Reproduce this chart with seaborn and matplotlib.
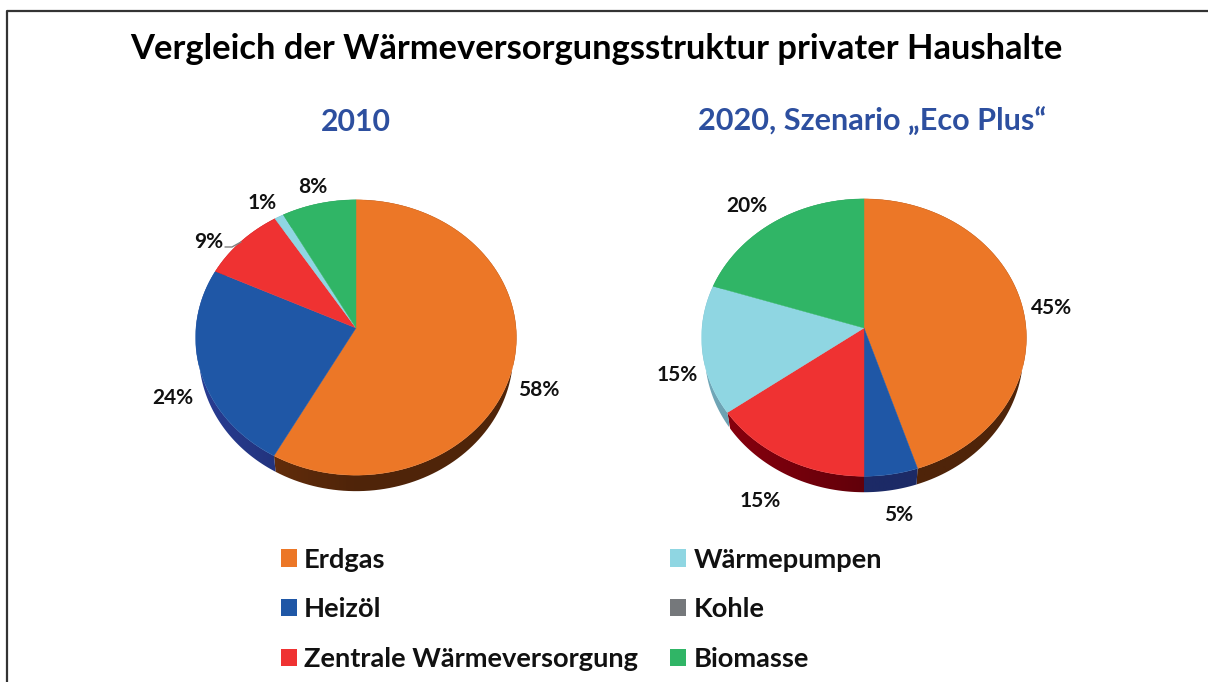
import matplotlib
matplotlib.use('Agg')
import matplotlib.pyplot as plt
from matplotlib.colors import to_rgb
from matplotlib.lines import Line2D
from matplotlib.patches import Patch, Polygon
import numpy as np
import seaborn as sns

categories = ['Erdgas', 'Heizöl', 'Zentrale Wärmeversorgung', 'Wärmepumpen', 'Kohle', 'Biomasse']
values_2010 = [58, 24, 9, 1, 0, 8]
values_2020 = [45, 5, 15, 15, 0, 20]
title_main = 'Vergleich der Wärmeversorgungsstruktur privater Haushalte'
title_2010 = '2010'
title_2020 = '2020, Szenario „Eco Plus“'

face_colors = ['#ec7727', '#1f57a6', '#ef3232', '#8fd6e2', '#75787b', '#30b566']
side_colors = ['#4f2409', '#1c2a66', '#62000a', '#4f7581', '#4a4c4e', '#1c6b3c']

W, H = 1208, 682
PERSP = 0.069
DEPTH = 16

sns.set_theme(style='white')
plt.rcParams['font.family'] = ['Lato', 'DejaVu Sans']

fig = plt.figure(figsize=(W / 100, H / 100), dpi=100, facecolor='white')


def warp(x, y, rx, ry):
    # tilted disc: the top of the pie is squeezed, the bottom stretched
    d = 1 + PERSP * y
    return rx * x / d, ry * y / d


def draw_pie(values, cx, cy, rx, ry):
    # axes in pixel units around the pie centre
    ax = fig.add_axes([(cx - 250) / W, 1 - (cy + 250) / H, 500 / W, 500 / H])
    wedges, _ = ax.pie(values, colors=face_colors, startangle=90, counterclock=False)
    for w, face, side in zip(wedges, face_colors, side_colors):
        t1, t2 = w.theta1, w.theta2
        w.remove()
        if t2 - t1 < 0.01:
            continue
        a = np.radians(np.linspace(t1, t2, 120))
        x, y = warp(np.cos(a), np.sin(a), rx, ry)
        # side wall with a gradient, it gets lighter towards the left
        band = np.vstack([np.c_[x, y], np.c_[x * 0.98, y - DEPTH][::-1]])
        xs = np.linspace(x.min(), x.max() + 1, 64)
        shade = 1 + 0.45 * np.clip(-xs / rx, 0, None)
        grad = np.clip(np.outer(shade, to_rgb(side)), 0, 1)[np.newaxis, :, :]
        im = ax.imshow(grad, extent=(xs[0], xs[-1], -250, 250), aspect='auto', zorder=1)
        im.set_clip_path(Polygon(band, closed=True, transform=ax.transData))
        top = np.vstack([[0, 0], np.c_[x, y]])
        ax.add_patch(Polygon(top, closed=True, fc=face, ec=face, lw=0.3, zorder=2))
    ax.set_aspect('auto')
    ax.set_xlim(-250, 250)
    ax.set_ylim(-250, 250)
    ax.axis('off')


def px_text(x, y, s, **kw):
    fig.text(x / W, 1 - (y + 2) / H, s, ha='center', va='center', fontweight='bold', **kw)


draw_pie(values_2010, 356, 328, 160, 137)
draw_pie(values_2020, 864, 328, 162, 138)

px_text(596, 47, title_main, fontsize=24.8, color='black')
px_text(355.5, 120, title_2010, fontsize=21.8, color='#2d4f9f')
px_text(872.5, 120, title_2020, fontsize=22.1, color='#2d4f9f')

# percent labels, placed by hand as in the original
pos_2010 = [(539, 388), (173, 396), (209, 240), (262, 201), (313, 185)]
pos_2020 = [(1052, 306), (899, 513), (760, 499), (677, 373), (747, 204)]
for vals, pos in ((values_2010, pos_2010), (values_2020, pos_2020)):
    for v, p in zip([v for v in vals if v > 0], pos):
        px_text(p[0], p[1], f'{v}%', fontsize=15, color='#111111')

# leader line of the 9% label
fig.add_artist(Line2D([225 / W, 232 / W, 241 / W], [1 - 247 / H, 1 - 247 / H, 1 - 242 / H],
                      color='#808080', lw=1.0))

# frame, only left and top are visible
fig.add_artist(Line2D([7.5 / W, 7.5 / W, 1], [0, 1 - 10.5 / H, 1 - 10.5 / H], color='#333333', lw=1.6))

# legend, column order as in the original
handles = [Patch(fc=c, ec='none') for c in face_colors]
leg = fig.legend(handles, categories, ncol=2, loc='upper left', bbox_to_anchor=(256 / W, 1 - 523 / H),
                 frameon=False, fontsize=19.6, handlelength=0.6, handleheight=0.6, handletextpad=0.26,
                 labelspacing=0.95, columnspacing=1.18, borderpad=0.4)
for t in leg.get_texts():
    t.set_fontweight('bold')
    t.set_color('#111111')

fig.savefig('out.png', dpi=100)
